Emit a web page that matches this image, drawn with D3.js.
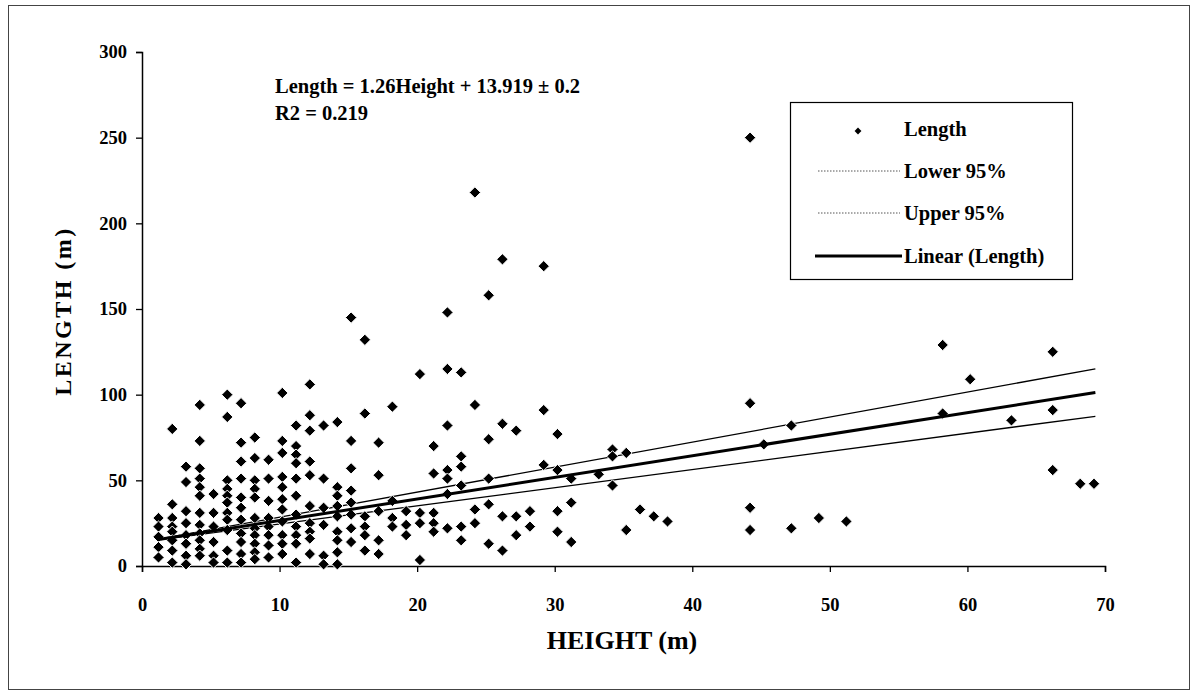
<!DOCTYPE html>
<html><head><meta charset="utf-8">
<script src="https://cdn.jsdelivr.net/npm/d3@7"></script>
<style>
html,body{margin:0;padding:0;background:#fff;}
text{font-family:"Liberation Serif","Times New Roman",serif;font-weight:bold;fill:#000;}
</style></head>
<body><svg id="chart" width="1197" height="698"></svg>
<script>
// Height columns (m) and the Length values (m) observed in each column
const heights = [1.2,2.2,3.2,4.2,5.2,6.2,7.2,8.2,9.2,10.2,11.2,12.2,13.2,14.2,15.2,16.2,17.2,18.2,19.2,20.2,21.2,22.2,23.2,24.2,25.2,26.2,27.2,28.2,29.2,30.2,31.2,33.2,34.2,35.2,36.2,37.2,38.2,44.2,45.2,47.2,49.2,51.2,58.2,60.2,63.2,66.2,68.2,69.2];
const lengths = [
 [28,23,17,11,5],
 [80,36,28,23,20,15,9,2],
 [58,49,32,25,18,13,6,1],
 [94,73,57,51,46,41,31,24,19,15,10,6],
 [42,31,23,14,6,2],
 [100,87,50,45,41,37,31,27,21,9,2],
 [95,72,61,51,40,34,27,19,14,7,2],
 [75,63,50,45,40,28,22,18,13,8,4],
 [62,51,38,28,23,18,12,5],
 [101,73,66,52,46,39,33,26,18,13,7],
 [82,70,65,60,51,41,30,23,18,13,2],
 [106,88,79,61,53,35,25,20,16,7],
 [82,51,34,24,6,1],
 [84,46,41,35,29,20,15,8,1],
 [145,73,57,44,37,30,22,14],
 [132,89,29,23,18,9],
 [72,53,32,15,7],
 [93,38,28,23],
 [32,24,18],
 [112,31,25,3.5],
 [70,54,31,25,20],
 [148,115,82,56,51,42,22],
 [113,64,58,47,23,15],
 [218,94,33,25],
 [158,74,51,36,13],
 [179,83,29,9],
 [79,29,18],
 [32,23],
 [175,91,59],
 [77,56,32,20],
 [51,37,14],
 [53.5],
 [68,64,47],
 [66,21],
 [33],
 [29],
 [26],
 [250,95,34,21],
 [71],
 [82,22],
 [28],
 [26],
 [129,89],
 [109],
 [85],
 [125,91,56],
 [48],
 [48]
];
const slope = 1.26, intercept = 13.919, slopeErr = 0.2;
const fitRange = [1.2, 69.3];
const xTicks = [0,10,20,30,40,50,60,70];
const yTicks = [0,50,100,150,200,250,300];
const legendLabels = ["Length","Lower 95%","Upper 95%","Linear (Length)"];
const equationLines = ["Length = 1.26Height + 13.919 ± 0.2","R2 = 0.219"];

const svg = d3.select("#chart");
// outer frame
svg.append("rect").attr("x",8.5).attr("y",5.5).attr("width",1181).attr("height",684)
  .attr("fill","none").attr("stroke","#444").attr("stroke-width",1);

const x = d3.scaleLinear().domain([0,70]).range([142,1105]);
const y = d3.scaleLinear().domain([0,300]).range([566,52]);

const points = [];
heights.forEach((h,i)=>lengths[i].forEach(v=>points.push({h,v})));

// axes
const xAxis = svg.append("g").attr("transform","translate(0,566)")
  .call(d3.axisBottom(x).tickValues(xTicks).tickSize(6).tickPadding(26));
const yAxis = svg.append("g").attr("transform","translate(142,0)")
  .call(d3.axisLeft(y).tickValues(yTicks).tickSize(6).tickPadding(9));
[xAxis,yAxis].forEach(a=>{
  a.select(".domain").attr("stroke","#000").attr("stroke-width",1.5);
  a.selectAll(".tick line").attr("stroke","#000").attr("stroke-width",1.3);
  a.selectAll(".tick text").style("font-family","'Liberation Serif',serif")
    .style("font-weight","bold").style("font-size","18.5px").attr("fill","#000");
});

// CI lines
const line = d3.line().x(d=>x(d[0])).y(d=>y(d[1]));
[slope-slopeErr, slope+slopeErr].forEach(s=>{
  svg.append("path").datum(fitRange.map(h=>[h, s*h+intercept]))
    .attr("d",line).attr("fill","none").attr("stroke","#000").attr("stroke-width",1.3);
});

// points
const sym = d3.symbol().type(d3.symbolDiamond2).size(82);
svg.append("g").selectAll("path").data(points).join("path")
  .attr("d",sym).attr("transform",d=>`translate(${x(d.h)},${y(d.v)})`)
  .attr("fill","#000").attr("stroke","#fff").attr("stroke-width",1);

// regression line
svg.append("path").datum(fitRange.map(h=>[h, slope*h+intercept]))
  .attr("d",line).attr("fill","none").attr("stroke","#000").attr("stroke-width",3);

// equation
equationLines.forEach((t,i)=>{
  svg.append("text").attr("x",275).attr("y",93+i*27).style("font-size","20.5px").text(t);
});

// axis titles
svg.append("text").attr("x",622).attr("y",649).attr("text-anchor","middle")
  .style("font-size","26px").text("HEIGHT (m)");
svg.append("text").attr("transform","translate(71,311) rotate(-90)").attr("text-anchor","middle")
  .style("font-size","24px").style("letter-spacing","2.5px").text("LENGTH (m)");

// legend
const lg = svg.append("g");
lg.append("rect").attr("x",790.5).attr("y",102.5).attr("width",282).attr("height",177)
  .attr("fill","#fff").attr("stroke","#000").attr("stroke-width",1.2);
const rows = [129,171,213,256];
legendLabels.forEach((t,i)=>{
  lg.append("text").attr("x",904).attr("y",rows[i]+7).style("font-size","20.5px").text(t);
});
lg.append("path").attr("d",d3.symbol().type(d3.symbolDiamond2).size(30))
  .attr("transform",`translate(858,${rows[0]+2})`).attr("fill","#000");
[1,2].forEach(i=>{
  lg.append("line").attr("x1",818).attr("x2",900).attr("y1",rows[i]).attr("y2",rows[i])
    .attr("stroke","#555").attr("stroke-width",1).attr("stroke-dasharray","1.5,1.5");
});
lg.append("line").attr("x1",815).attr("x2",902).attr("y1",rows[3]).attr("y2",rows[3])
  .attr("stroke","#000").attr("stroke-width",3);
</script></body></html>
